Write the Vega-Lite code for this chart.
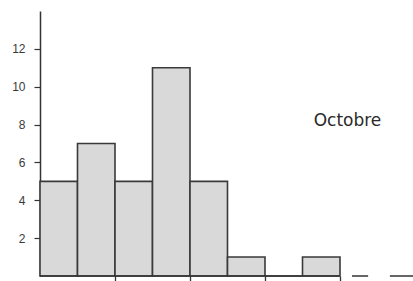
{
  "$schema": "https://vega.github.io/schema/vega-lite/v6.json",
  "width": 375,
  "height": 265,
  "autosize": {"type": "none"},
  "padding": {"left": 40, "top": 11, "right": 0, "bottom": 5},
  "background": "white",
  "config": {"view": {"stroke": null}, "font": "Liberation Sans"},
  "datasets": {
    "bars": [
      {"start": 0, "end": 1, "count": 5},
      {"start": 1, "end": 2, "count": 7},
      {"start": 2, "end": 3, "count": 5},
      {"start": 3, "end": 4, "count": 11},
      {"start": 4, "end": 5, "count": 5},
      {"start": 5, "end": 6, "count": 1},
      {"start": 6, "end": 7, "count": 0},
      {"start": 7, "end": 8, "count": 1}
    ],
    "base": [
      {"a": 0, "b": 8, "y": 0},
      {"a": 8.32, "b": 8.75, "y": 0},
      {"a": 9.33, "b": 10, "y": 0}
    ],
    "label": [{"x": 8.2, "y": 8.2, "text": "Octobre"}]
  },
  "layer": [
    {
      "data": {"name": "bars"},
      "mark": {"type": "rect", "fill": "#d9d9d9", "stroke": "#3a3a3a", "strokeWidth": 1.6},
      "encoding": {
        "x": {"field": "start", "type": "quantitative", "scale": {"domain": [0, 10], "nice": false},
          "axis": {"values": [2, 4, 6, 8, 10], "labels": false, "domain": false, "ticks": true, "tickSize": 5, "tickColor": "#333", "tickWidth": 1.3, "grid": false, "title": null}},
        "x2": {"field": "end"},
        "y": {"field": "count", "type": "quantitative", "scale": {"domain": [0, 14], "nice": false},
          "axis": {"values": [2, 4, 6, 8, 10, 12], "domainColor": "#333", "domainWidth": 1.5, "tickColor": "#333", "tickWidth": 1.2, "tickSize": 6, "labelColor": "#3a3a3a", "labelFontSize": 12, "labelPadding": 9, "grid": false, "title": null}},
        "y2": {"datum": 0}
      }
    },
    {
      "data": {"name": "base"},
      "mark": {"type": "rule", "color": "#333", "strokeWidth": 1.5},
      "encoding": {
        "x": {"field": "a", "type": "quantitative"},
        "x2": {"field": "b"},
        "y": {"field": "y", "type": "quantitative"}
      }
    },
    {
      "data": {"name": "label"},
      "mark": {"type": "text", "font": "DejaVu Sans", "fontSize": 17, "color": "#2a2a2a", "align": "center", "baseline": "middle"},
      "encoding": {
        "x": {"field": "x", "type": "quantitative"},
        "y": {"field": "y", "type": "quantitative"},
        "text": {"field": "text"}
      }
    }
  ]
}
